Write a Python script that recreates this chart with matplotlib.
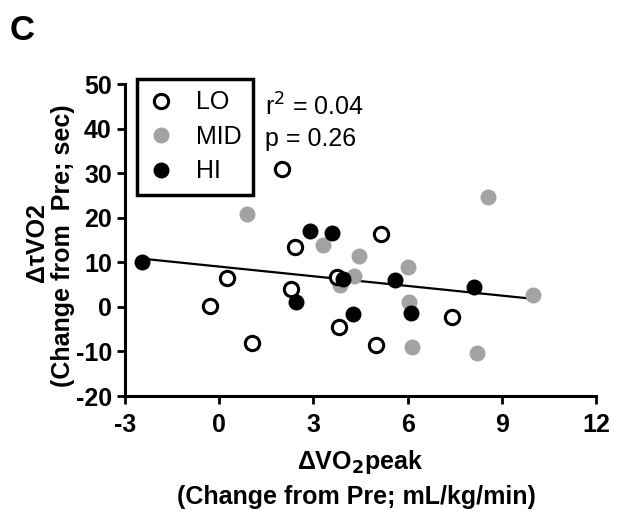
import numpy as np
import matplotlib
matplotlib.use("Agg")
import matplotlib.pyplot as plt
from matplotlib.lines import Line2D

plt.rcParams['font.family'] = ['Liberation Sans', 'DejaVu Sans']

# LO (open circles)
lo_x = [2.0, 5.15, 2.4, 0.25, 3.75, 2.3, -0.3, 1.05, 3.8, 5.0, 7.4]
lo_y = [30.9, 16.3, 13.5, 6.4, 6.6, 4.1, 0.3, -8.0, -4.5, -8.6, -2.2]
# MID (gray)
mid_x = [0.9, 8.55, 3.3, 4.45, 6.0, 4.3, 3.85, 6.05, 10.0, 6.15, 8.2]
mid_y = [20.8, 24.7, 13.9, 11.5, 9.0, 6.9, 4.9, 1.2, 2.7, -8.9, -10.3]
# HI (black)
hi_x = [-2.45, 2.9, 3.6, 3.95, 5.6, 8.1, 2.45, 4.25, 6.1]
hi_y = [10.1, 17.1, 16.5, 6.2, 6.1, 4.5, 1.0, -1.7, -1.4]

# regression line end values
fit_x = [-2.3, 10.0]
fit_y = [10.7, 1.8]

xticks = [-3, 0, 3, 6, 9, 12]
yticks = [-20, -10, 0, 10, 20, 30, 40, 50]

fig = plt.figure(figsize=(6.17, 5.11), dpi=100)
ax = fig.add_axes([125/617, 1-396/511, (596-125)/617, (396-84)/511])

gray = '#A3A3A5'
ax.plot(fit_x, fit_y, color='black', lw=1.6, zorder=2)
ax.plot(mid_x, mid_y, 'o', ms=11.5, mfc=gray, mec=gray, mew=0, zorder=3, clip_on=False)
ax.plot(lo_x, lo_y, 'o', ms=10.3, mfc='white', mec='black', mew=2.2, zorder=4, clip_on=False)
ax.plot(hi_x, hi_y, 'o', ms=11.5, mfc='black', mec='black', mew=0, zorder=5, clip_on=False)

ax.set_xlim(-3, 12)
ax.set_ylim(-20, 50)
ax.set_xticks(xticks)
ax.set_yticks(yticks)
ax.set_xticklabels([str(t) for t in xticks], fontsize=18, fontweight='bold')
ax.set_yticklabels([str(t) for t in yticks], fontsize=18, fontweight='bold')
for s in ['top', 'right']:
    ax.spines[s].set_visible(False)
for s in ['left', 'bottom']:
    ax.spines[s].set_linewidth(2.2)
ax.tick_params(axis='both', direction='out', length=5.5, width=2.0)
ax.tick_params(axis='x', pad=6.5)
ax.tick_params(axis='y', pad=4)

handles = [
    Line2D([], [], ls='none', marker='o', ms=10.3, mfc='white', mec='black', mew=2.2),
    Line2D([], [], ls='none', marker='o', ms=11.5, mfc=gray, mec=gray, mew=0),
    Line2D([], [], ls='none', marker='o', ms=11.5, mfc='black', mec='black', mew=0),
]
leg = ax.legend(handles, ['LO', 'MID', 'HI'], loc='upper left',
                bbox_to_anchor=(0.0255, 1.016), frameon=True, fancybox=False,
                edgecolor='black', framealpha=1, fontsize=18, handletextpad=0.9,
                borderpad=0.45, labelspacing=0.42, handlelength=1.0,
                borderaxespad=0)
leg.get_frame().set_linewidth(2.5)

ax.text(265, 511-116, r'r$^2$ = 0.04', transform=None, fontsize=18, va='baseline')
ax.text(265, 511-146, 'p = 0.26', transform=None, fontsize=18, va='baseline')

fig.text(10/617, 1-40/511, 'C', fontsize=25, fontweight='bold')

fig.text(37/617, 1-243/511, '\u0394\u03c4VO2', rotation=90, fontsize=18,
         fontweight='bold', ha='center', va='center')
fig.text(63/617, 1-246/511, '(Change from  Pre; sec)', rotation=90, fontsize=18,
         fontweight='bold', ha='center', va='center')
fig.text(360/617, 1-462/511, r'$\mathregular{\Delta}$VO$_\mathbf{2}$peak', fontsize=18,
         fontweight='bold', ha='center', va='center')
fig.text(356/617, 1-497/511, '(Change from Pre; mL/kg/min)', fontsize=18,
         fontweight='bold', ha='center', va='center')

fig.savefig('out.png', dpi=100)
